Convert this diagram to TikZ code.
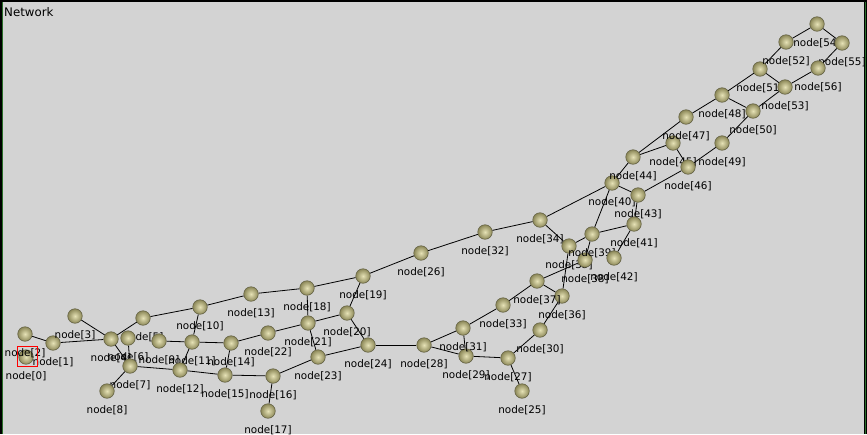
\documentclass[tikz,border=0pt]{standalone}
\usepackage{fontspec}
\setmainfont{DejaVu Sans}
\definecolor{bggray}{RGB}{211,211,211}
\definecolor{ballin}{RGB}{230,226,182}
\definecolor{ballout}{RGB}{140,136,88}
\definecolor{ballrim}{RGB}{100,98,68}
\definecolor{framegreen}{RGB}{40,110,40}
\pgfdeclarelayer{bg}
\pgfdeclarelayer{edges}
\pgfsetlayers{bg,edges,main}
\begin{document}
\begin{tikzpicture}[x=1pt,y=-1pt,
  nd/.style={circle, minimum size=14.5pt, inner sep=0pt, draw=ballrim, line width=0.6pt,
             inner color=ballin, outer color=ballout},
  lbl/.style={inner sep=0pt, anchor=base, font=\fontsize{10.4}{12}\selectfont, text=black},
  edge/.style={draw=black, line width=0.8pt},
  selbox/.style={draw=red, line width=0.8pt}]
\useasboundingbox (0,0) rectangle (867,434);
\begin{pgfonlayer}{bg}
  \fill[black] (0,0) rectangle (867,434);
  \fill[bggray] (2,2) rectangle (864,434);
  \draw[framegreen, line width=0.6pt] (2.3,2) -- (2.3,434);
  \draw[framegreen, line width=0.6pt] (865.7,2) -- (865.7,434);
\end{pgfonlayer}
\node[anchor=base west, inner sep=0pt, font=\fontsize{11.8}{14}\selectfont] (title) at (4,16) {Network};
\foreach \i/\x/\y in {
  0/26/357, 1/53/343, 2/25/334, 3/75/316, 4/111/339, 5/143/318, 6/128/338,
  7/130/366, 8/107/391, 9/159/341, 10/200/307, 11/192/342, 12/180/370,
  13/251/294, 14/231/343, 15/225/375, 16/273/376, 17/268/411, 18/307/288,
  19/363/276, 20/347/313, 21/308/323, 22/268/333, 23/318/357, 24/368/345,
  25/522/391, 26/421/253, 27/508/358, 28/424/345, 29/466/356, 30/540/330,
  31/463/328, 32/485/232, 33/503/305, 34/540/220, 35/569/246, 36/562/296,
  37/537/281, 38/585/260, 39/592/234, 40/612/183, 41/634/224, 42/614/258,
  43/638/195, 44/633/157, 45/673/143, 46/688/167, 47/686/117, 48/722/95,
  49/722/143, 50/753/111, 51/760/69, 52/786/42, 53/785/87, 54/817/24,
  55/842/43, 56/818/68} {
  \node[nd] (n\i) at (\x,\y) {};
  \node[lbl] (l\i) at (\x,\y+22.5) {node[\i]};
}
\begin{pgfonlayer}{edges}
\foreach \a/\b in {2/1, 1/4, 3/4, 4/5, 4/7, 6/7, 5/10, 10/13, 13/18, 18/19,
  19/26, 26/32, 32/34, 34/40, 34/35, 35/39, 35/36, 39/40, 39/41, 39/38,
  41/42, 41/43, 40/43, 40/44, 43/46, 46/49, 44/45, 44/47, 45/46, 47/48,
  48/51, 48/50, 51/52, 52/54, 54/55, 55/56, 56/53, 51/53, 53/50, 50/49,
  37/38, 37/36, 37/33, 33/31, 31/28, 31/29, 28/29, 29/27, 27/30, 27/25,
  30/36, 28/24, 24/23, 23/16, 16/17, 16/15, 15/12, 12/7, 7/8, 9/11,
  11/14, 10/11, 11/12, 14/22, 22/21, 21/20, 20/19, 18/21, 21/23, 14/15,
  20/24}
  \draw[edge] (n\a) -- (n\b);
\end{pgfonlayer}
\node[selbox, minimum size=20pt, inner sep=0pt] (sel) at (27,356) {};
\end{tikzpicture}
\end{document}
